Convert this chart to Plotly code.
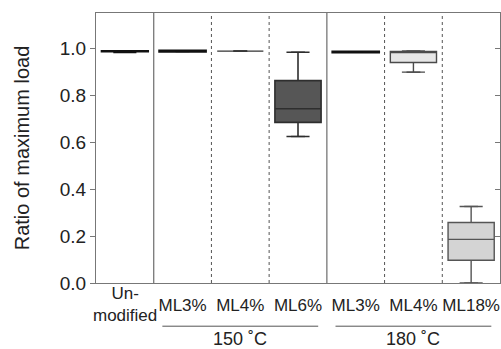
import plotly.graph_objects as go

categories = ["Un-modified", "ML3%", "ML4%", "ML6%", "ML3%", "ML4%", "ML18%"]
q1 = [0.986, 0.986, 0.988, 0.684, 0.983, 0.939, 0.097]
median = [0.987, 0.987, 0.988, 0.742, 0.984, 0.986, 0.186]
q3 = [0.988, 0.989, 0.988, 0.862, 0.985, 0.986, 0.258]
lowerfence = [0.983, 0.986, 0.988, 0.624, 0.983, 0.898, 0.0]
upperfence = [0.988, 0.989, 0.988, 0.983, 0.985, 0.988, 0.326]
fills = ["#222222", "#222222", "#444444", "#565656", "#222222", "#e6e6e6", "#d4d4d4"]
edges = ["#111111", "#111111", "#333333", "#2e2e2e", "#111111", "#4a4a4a", "#555555"]
edge_w = [2.2, 2.5, 1.2, 1.6, 2.5, 1.4, 1.4]
groups = [("150 ˚C", 1, 3), ("180 ˚C", 4, 6)]
separators = [(0.5, "solid"), (1.5, "dot"), (2.5, "dot"), (3.5, "solid"), (4.5, "dot"), (5.5, "dot")]
yticks = [0.0, 0.2, 0.4, 0.6, 0.8, 1.0]

FONT = "Liberation Sans, Arial, sans-serif"
GRAY = "#777777"

fig = go.Figure()
for i in range(len(categories)):
    fig.add_trace(go.Box(
        x=[i], q1=[q1[i]], median=[median[i]], q3=[q3[i]],
        lowerfence=[lowerfence[i]], upperfence=[upperfence[i]],
        width=0.8, fillcolor=fills[i],
        line=dict(color=edges[i], width=edge_w[i]),
        showlegend=False, hoverinfo="skip"))
    for v in (lowerfence[i], upperfence[i]):
        fig.add_trace(go.Scatter(
            x=[i - 0.12, i + 0.12], y=[v, v], mode="lines",
            line=dict(color=edges[i], width=1.4),
            showlegend=False, hoverinfo="skip"))

# dummy trace for the right-side axis
fig.add_trace(go.Scatter(x=[0], y=[0], yaxis="y2", mode="markers",
                         marker=dict(opacity=0), showlegend=False, hoverinfo="skip"))

for xpos, dash in separators:
    fig.add_shape(type="line", xref="x", yref="paper", x0=xpos, x1=xpos, y0=0, y1=1,
                  line=dict(color=GRAY if dash == "solid" else "#555555",
                            width=1.3 if dash == "solid" else 1, dash=dash))

# Un-modified label (two lines, vertically centered)
fig.add_annotation(x=0, y=-0.08, xref="x", yref="paper", text="Un-<br>modified",
                   showarrow=False, font=dict(family=FONT, size=17, color="#222"),
                   yanchor="middle", xanchor="center")

for label, a, b in groups:
    fig.add_shape(type="line", xref="x", yref="paper", x0=a - 0.35, x1=b + 0.35,
                  y0=-0.16, y1=-0.16, line=dict(color="#555555", width=1))
    fig.add_annotation(x=(a + b) / 2, y=-0.207, xref="x", yref="paper", text=label,
                       showarrow=False, font=dict(family=FONT, size=18, color="#222"),
                       yanchor="middle", xanchor="center")

fig.update_layout(
    width=501, height=349,
    margin=dict(l=96, r=1, t=13, b=66),
    paper_bgcolor="white", plot_bgcolor="white",
    font=dict(family=FONT, size=17, color="#222"),
    xaxis=dict(range=[-0.5, 6.5], tickvals=list(range(1, len(categories))),
               ticktext=categories[1:], ticks="", showline=True, mirror=True,
               linecolor=GRAY, linewidth=1.3, showgrid=False, zeroline=False,
               tickfont=dict(size=17), ticklabelstandoff=6, fixedrange=True),
    yaxis=dict(range=[0, 1.15], tickvals=yticks, tickformat=".1f",
               ticks="outside", ticklen=5, tickcolor=GRAY, tickwidth=1,
               showline=True, mirror=True, linecolor=GRAY, linewidth=1.3,
               showgrid=False, zeroline=False,
               title=dict(text="Ratio of maximum load", font=dict(size=20), standoff=24),
               tickfont=dict(size=19)),
    yaxis2=dict(range=[0, 1.15], tickvals=yticks, overlaying="y", side="right",
                ticks="inside", ticklen=5, tickcolor=GRAY, showticklabels=False,
                showgrid=False, zeroline=False, showline=False),
)

fig.write_html("out.html")
